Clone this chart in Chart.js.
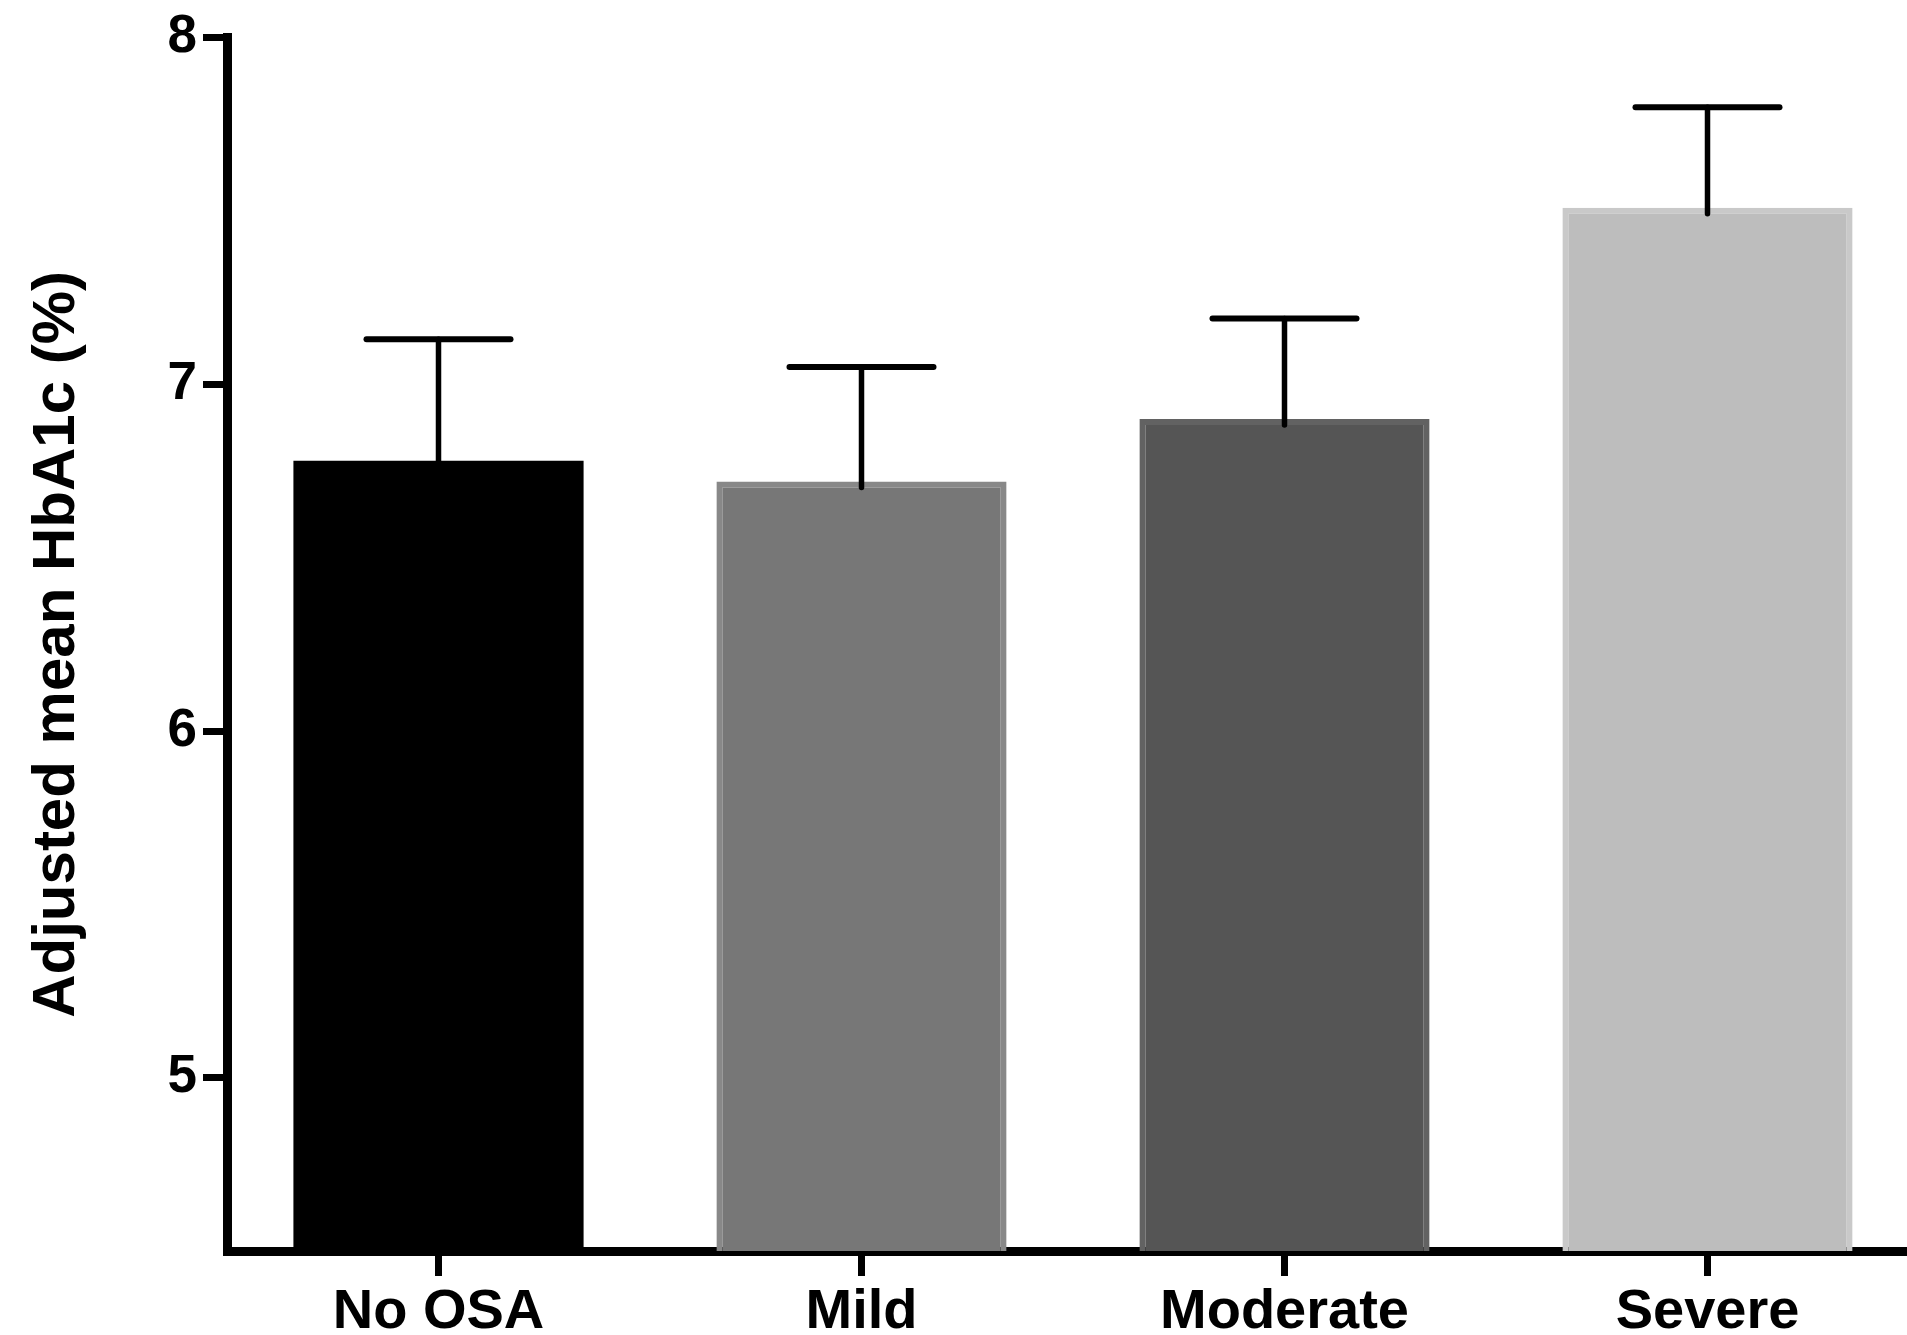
<!DOCTYPE html>
<html>
<head>
<meta charset="utf-8">
<script src="https://cdn.jsdelivr.net/npm/chart.js@4.4.1/dist/chart.umd.min.js"></script>
<style>
  html, body { margin: 0; padding: 0; background: #fff; overflow: hidden; }
  canvas { display: block; }
</style>
</head>
<body>
<canvas id="chart" width="1921" height="1335"></canvas>
<script>
// data
var groups = ['No OSA', 'Mild', 'Moderate', 'Severe'];
var meanHbA1c = [6.78, 6.72, 6.90, 7.51];
var errUpper = [0.35, 0.33, 0.29, 0.29];
var yTicks = [5, 6, 7, 8];
var barColors = ['#000000', '#777777', '#555555', '#bdbdbd'];
var barEdges = ['#000000', '#888888', '#626262', '#c9c9c9'];
var barEdgeWidths = [0, 6, 6, 6];

var labelFont = { family: 'Liberation Sans', weight: 'bold', size: 56 };

// draws the upper error bars (line + cap) from the bar top
var errorBars = {
    id: 'errorBars',
    afterDatasetsDraw: function(chart){
        var ctx = chart.ctx;
        var meta = chart.getDatasetMeta(0);
        var yScale = chart.scales.y;
        ctx.save();
        ctx.strokeStyle = '#000';
        ctx.lineCap = 'round';
        for(var i = 0; i < meta.data.length; i++){
            var bar = meta.data[i];
            var yTop = yScale.getPixelForValue(meanHbA1c[i] + errUpper[i]);
            var yBase = yScale.getPixelForValue(meanHbA1c[i]);
            ctx.lineWidth = 5.5;
            ctx.beginPath();
            ctx.moveTo(bar.x, yBase + 6);
            ctx.lineTo(bar.x, yTop);
            ctx.stroke();
            ctx.lineWidth = 6;
            ctx.beginPath();
            ctx.moveTo(bar.x - 72, yTop);
            ctx.lineTo(bar.x + 72, yTop);
            ctx.stroke();
        }
        ctx.restore();
    }
};

var chart = new Chart(document.getElementById('chart').getContext('2d'), {
    type: 'bar',
    data: {
        labels: groups,
        datasets: [{
            data: meanHbA1c,
            backgroundColor: barColors,
            borderColor: barEdges,
            borderWidth: barEdgeWidths,
            borderSkipped: false,
            categoryPercentage: 1,
            barPercentage: 0.686
        }]
    },
    options: {
        responsive: false,
        animation: false,
        layout: { padding: { top: 33, right: 2, left: 0, bottom: 0 } },
        plugins: {
            legend: { display: false },
            tooltip: { enabled: false }
        },
        scales: {
            x: {
                afterFit: function(s){ s.height = 84; },
                border: { display: true, color: '#000', width: 9 },
                grid: { drawOnChartArea: false, offset: false, color: '#000', lineWidth: 7, tickLength: 25 },
                ticks: { color: '#000', font: labelFont, padding: 3, maxRotation: 0 }
            },
            y: {
                min: 4.5,
                max: 8,
                afterFit: function(s){ s.width = 227; },
                afterBuildTicks: function(s){ s.ticks = yTicks.map(function(v){ return { value: v }; }); },
                border: { display: true, color: '#000', width: 9 },
                grid: { drawOnChartArea: false, color: '#000', lineWidth: 7, tickLength: 24 },
                ticks: { color: '#000', font: { family: 'Liberation Sans', weight: 'bold', size: 53 }, padding: 6 },
                title: {
                    display: true,
                    text: 'Adjusted mean HbA1c (%)',
                    color: '#000',
                    font: { family: 'Liberation Sans', weight: 'bold', size: 60 },
                    padding: { top: 21, bottom: 0 }
                }
            }
        }
    },
    plugins: [errorBars]
});
</script>
</body>
</html>
